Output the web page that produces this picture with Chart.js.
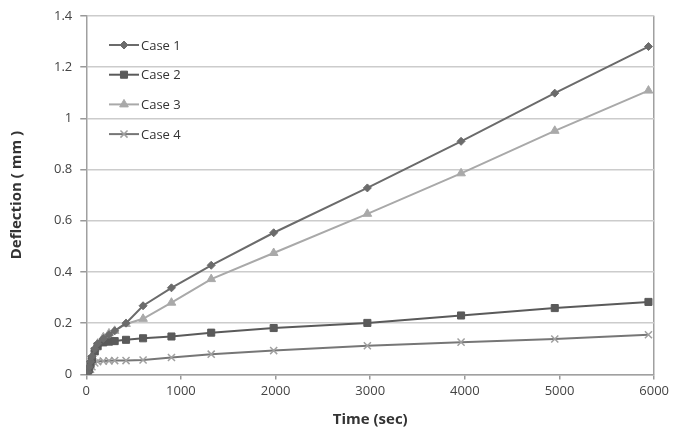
<!DOCTYPE html>
<html>
<head>
<meta charset="utf-8">
<script src="https://cdn.jsdelivr.net/npm/chart.js@4/dist/chart.umd.min.js"></script>
<style>
    html, body { margin: 0; padding: 0; background: #fff; }
    #wrap { width: 673px; height: 431px; }
</style>
</head>
<body>
<div id="wrap"><canvas id="deflectionChart"></canvas></div>
<script>
// times (sec)
const times = [0, 15, 30, 45, 60, 90, 120, 180, 240, 300, 420, 600, 900, 1320, 1980, 2970, 3960, 4950, 5940];

// deflection (mm)
const case1 = [0, 0.01, 0.03, 0.05, 0.07, 0.10, 0.12, 0.14, 0.155, 0.17, 0.20, 0.268, 0.338, 0.426, 0.553, 0.728, 0.910, 1.098, 1.280];
const case2 = [0, 0.005, 0.02, 0.04, 0.06, 0.09, 0.11, 0.125, 0.128, 0.130, 0.135, 0.141, 0.148, 0.163, 0.181, 0.201, 0.230, 0.259, 0.283];
const case3 = [0, 0.01, 0.03, 0.05, 0.07, 0.10, 0.12, 0.145, 0.16, 0.17, 0.197, 0.217, 0.280, 0.372, 0.474, 0.627, 0.785, 0.951, 1.108];
const case4 = [0, 0.003, 0.01, 0.02, 0.03, 0.045, 0.05, 0.052, 0.053, 0.054, 0.054, 0.056, 0.066, 0.079, 0.093, 0.112, 0.126, 0.138, 0.155];

const seriesNames = ['Case 1', 'Case 2', 'Case 3', 'Case 4'];
const yTicks = [0, 0.2, 0.4, 0.6, 0.8, 1, 1.2, 1.4];
const xTicks = [0, 1000, 2000, 3000, 4000, 5000, 6000];

function toPoints(values) {
    return times.map((t, i) => ({ x: t, y: values[i] }));
}

const FONT = '"Open Sans", "Liberation Sans", sans-serif';

// legend drawn inside the plot, top left
const insideLegend = {
    id: 'insideLegend',
    afterDraw(chart) {
        const ctx = chart.ctx;
        const x0 = 109, x1 = 139, top = 45, gap = 29.7;
        ctx.save();
        chart.data.datasets.forEach((ds, i) => {
            const y = top + i * gap;
            ctx.strokeStyle = ds.borderColor;
            ctx.lineWidth = 2;
            ctx.beginPath();
            ctx.moveTo(x0, y);
            ctx.lineTo(x1, y);
            ctx.stroke();
            ctx.fillStyle = ds.pointBackgroundColor;
            ctx.strokeStyle = ds.pointBorderColor;
            ctx.lineWidth = ds.pointBorderWidth;
            Chart.helpers.drawPoint(ctx, {
                pointStyle: ds.pointStyle,
                radius: ds.pointRadius,
                borderWidth: ds.pointBorderWidth
            }, (x0 + x1) / 2, y);
            ctx.fillStyle = '#333';
            ctx.font = '13px ' + FONT;
            ctx.textBaseline = 'middle';
            ctx.textAlign = 'left';
            ctx.fillText(ds.label, x1 + 2, y + 1);
        });
        ctx.restore();
    }
};

new Chart(document.getElementById('deflectionChart'), {
    type: 'line',
    data: {
        datasets: [{
            label: seriesNames[0],
            data: toPoints(case1),
            borderColor: '#6b6b6b',
            borderWidth: 2,
            pointStyle: 'rectRot',
            pointRadius: 4,
            pointBackgroundColor: '#6b6b6b',
            pointBorderColor: '#6b6b6b',
            pointBorderWidth: 1
        }, {
            label: seriesNames[1],
            data: toPoints(case2),
            borderColor: '#5a5a5a',
            borderWidth: 2,
            pointStyle: 'rect',
            pointRadius: 5,
            pointBackgroundColor: '#5a5a5a',
            pointBorderColor: '#5a5a5a',
            pointBorderWidth: 1
        }, {
            label: seriesNames[2],
            data: toPoints(case3),
            borderColor: '#a9a9a9',
            borderWidth: 2,
            pointStyle: 'triangle',
            pointRadius: 5,
            pointBackgroundColor: '#a9a9a9',
            pointBorderColor: '#a9a9a9',
            pointBorderWidth: 1
        }, {
            label: seriesNames[3],
            data: toPoints(case4),
            borderColor: '#767676',
            borderWidth: 2,
            pointStyle: 'crossRot',
            pointRadius: 5,
            pointBackgroundColor: '#a0a0a0',
            pointBorderColor: '#a0a0a0',
            pointBorderWidth: 1.5
        }]
    },
    options: {
        responsive: true,
        maintainAspectRatio: false,
        animation: false,
        layout: { padding: { top: 6, right: 8, left: 8, bottom: 2 } },
        plugins: {
            legend: { display: false },
            tooltip: { enabled: false }
        },
        elements: { line: { tension: 0 } },
        scales: {
            x: {
                type: 'linear',
                min: 0,
                max: 6000,
                afterBuildTicks: axis => { axis.ticks = xTicks.map(v => ({ value: v })); },
                grid: {
                    color: c => (c.tick && c.tick.value === 6000) ? '#a0a0a0' : 'rgba(0,0,0,0)',
                    lineWidth: 1.5,
                    tickColor: '#999',
                    tickLength: 5,
                    drawOnChartArea: true
                },
                border: { color: '#a0a0a0', width: 1.5 },
                ticks: {
                    color: '#444',
                    font: { family: FONT, size: 13 },
                    padding: 4,
                    maxRotation: 0,
                    callback: v => String(v)
                },
                title: {
                    display: true,
                    text: 'Time (sec)',
                    color: '#333',
                    font: { family: FONT, size: 15, weight: 'bold' },
                    padding: { top: 8, bottom: 0 }
                }
            },
            y: {
                min: 0,
                max: 1.4,
                afterBuildTicks: axis => { axis.ticks = yTicks.map(v => ({ value: v })); },
                grid: {
                    color: '#cccccc',
                    lineWidth: 1.5,
                    tickColor: '#999',
                    tickLength: 6
                },
                border: { color: '#a0a0a0', width: 1.5 },
                ticks: {
                    color: '#444',
                    font: { family: FONT, size: 13 },
                    padding: 8,
                    callback: v => String(parseFloat(v.toFixed(1)))
                },
                title: {
                    display: true,
                    text: 'Deflection ( mm )',
                    color: '#333',
                    font: { family: FONT, size: 15, weight: 'bold' },
                    padding: { top: 0, bottom: 20 }
                }
            }
        }
    },
    plugins: [insideLegend]
});
</script>
</body>
</html>
